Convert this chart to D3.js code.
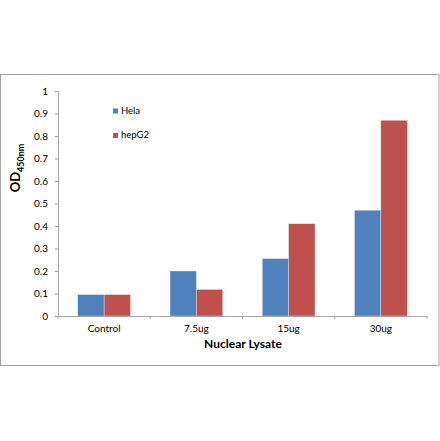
<!DOCTYPE html>
<html><head><meta charset="utf-8">
<script src="https://cdn.jsdelivr.net/npm/d3@7"></script>
<style>
html,body{margin:0;padding:0;background:#fff;}
svg{display:block;font-family:Lato,"Open Sans",sans-serif;}
</style></head>
<body>
<svg id="c" width="440" height="441"></svg>
<script>
const categories = ["Control", "7.5ug", "15ug", "30ug"];
const seriesNames = ["Hela", "hepG2"];
const helaValues = [0.095, 0.2, 0.255, 0.47];
const hepG2Values = [0.095, 0.118, 0.41, 0.87];
const yTicks = [0, 0.1, 0.2, 0.3, 0.4, 0.5, 0.6, 0.7, 0.8, 0.9, 1];
const colors = ["#4F81BD", "#C0504D"];

(function () {
const svg = d3.select("#c");
svg.append("rect").attr("x", 0.5).attr("y", 74.5).attr("width", 438.5).attr("height", 291)
  .attr("fill", "#fff").attr("stroke", "#a6a6a6").attr("stroke-width", 1);

const pL = 58, pR = 427, pT = 91, pB = 316;
const x = d3.scaleBand().domain(categories).range([pL, pR]).paddingInner(0).paddingOuter(0);
const x1 = d3.scaleBand().domain(seriesNames).range([0, x.bandwidth()]).paddingInner(0).paddingOuter(0.75);
const y = d3.scaleLinear().domain([0, 1]).range([pB, pT]);

const data = categories.map((c, i) => ({cat: c, vals: [helaValues[i], hepG2Values[i]]}));

const g = svg.append("g");
g.selectAll("g.grp").data(data).join("g").attr("class", "grp")
  .attr("transform", d => `translate(${x(d.cat)},0)`)
  .selectAll("rect").data(d => d.vals.map((v, k) => ({v, k})))
  .join("rect")
  .attr("x", d => x1(seriesNames[d.k]))
  .attr("width", x1.bandwidth())
  .attr("y", d => y(d.v))
  .attr("height", d => y(0) - y(d.v))
  .attr("fill", d => colors[d.k])
  .attr("stroke", "#e8e8e8").attr("stroke-width", 0.4);

// y axis
const yAxis = svg.append("g").attr("transform", `translate(${pL},0)`)
  .call(d3.axisLeft(y).tickValues(yTicks).tickFormat(d3.format("")).tickSize(3).tickPadding(7));
yAxis.select(".domain").attr("stroke", "#a6a6a6");
yAxis.selectAll(".tick line").attr("stroke", "#a6a6a6");
yAxis.selectAll("text").attr("font-size", 10).attr("fill", "#000").attr("font-family", "Lato");

// x axis
const xAxis = svg.append("g").attr("transform", `translate(0,${pB})`)
  .call(d3.axisBottom(x).tickSize(0).tickPadding(9));
xAxis.select(".domain").attr("stroke", "#a6a6a6");
xAxis.selectAll("text").attr("font-size", 10).attr("fill", "#000").attr("font-family", "Lato");
xAxis.selectAll("line.sep").data([pL, ...categories.map(c => x(c) + x.bandwidth())]).join("line")
  .attr("class", "sep").attr("x1", d => d).attr("x2", d => d).attr("y1", 0).attr("y2", 3)
  .attr("stroke", "#a6a6a6");

// axis titles
svg.append("text").attr("x", 243).attr("y", 348).attr("text-anchor", "middle")
  .attr("font-size", 12).attr("font-weight", "bold").attr("font-family", "Lato").text("Nuclear Lysate");
const yt = svg.append("text").attr("transform", "translate(20,168) rotate(-90)")
  .attr("text-anchor", "middle").attr("font-size", 13).attr("font-weight", "bold").attr("font-family", "Lato");
yt.append("tspan").text("OD");
yt.append("tspan").attr("font-size", 9).attr("dy", 4).text("450nm");

// legend
const leg = svg.append("g");
seriesNames.forEach((s, i) => {
  const ly = 108.5 + i * 24.5;
  leg.append("rect").attr("x", 113).attr("y", ly).attr("width", 5).attr("height", 5).attr("fill", colors[i]);
  leg.append("text").attr("x", 121).attr("y", ly + 5).attr("font-size", 9.5).attr("font-family", "Lato").text(s);
});
})();
</script>
</body></html>
